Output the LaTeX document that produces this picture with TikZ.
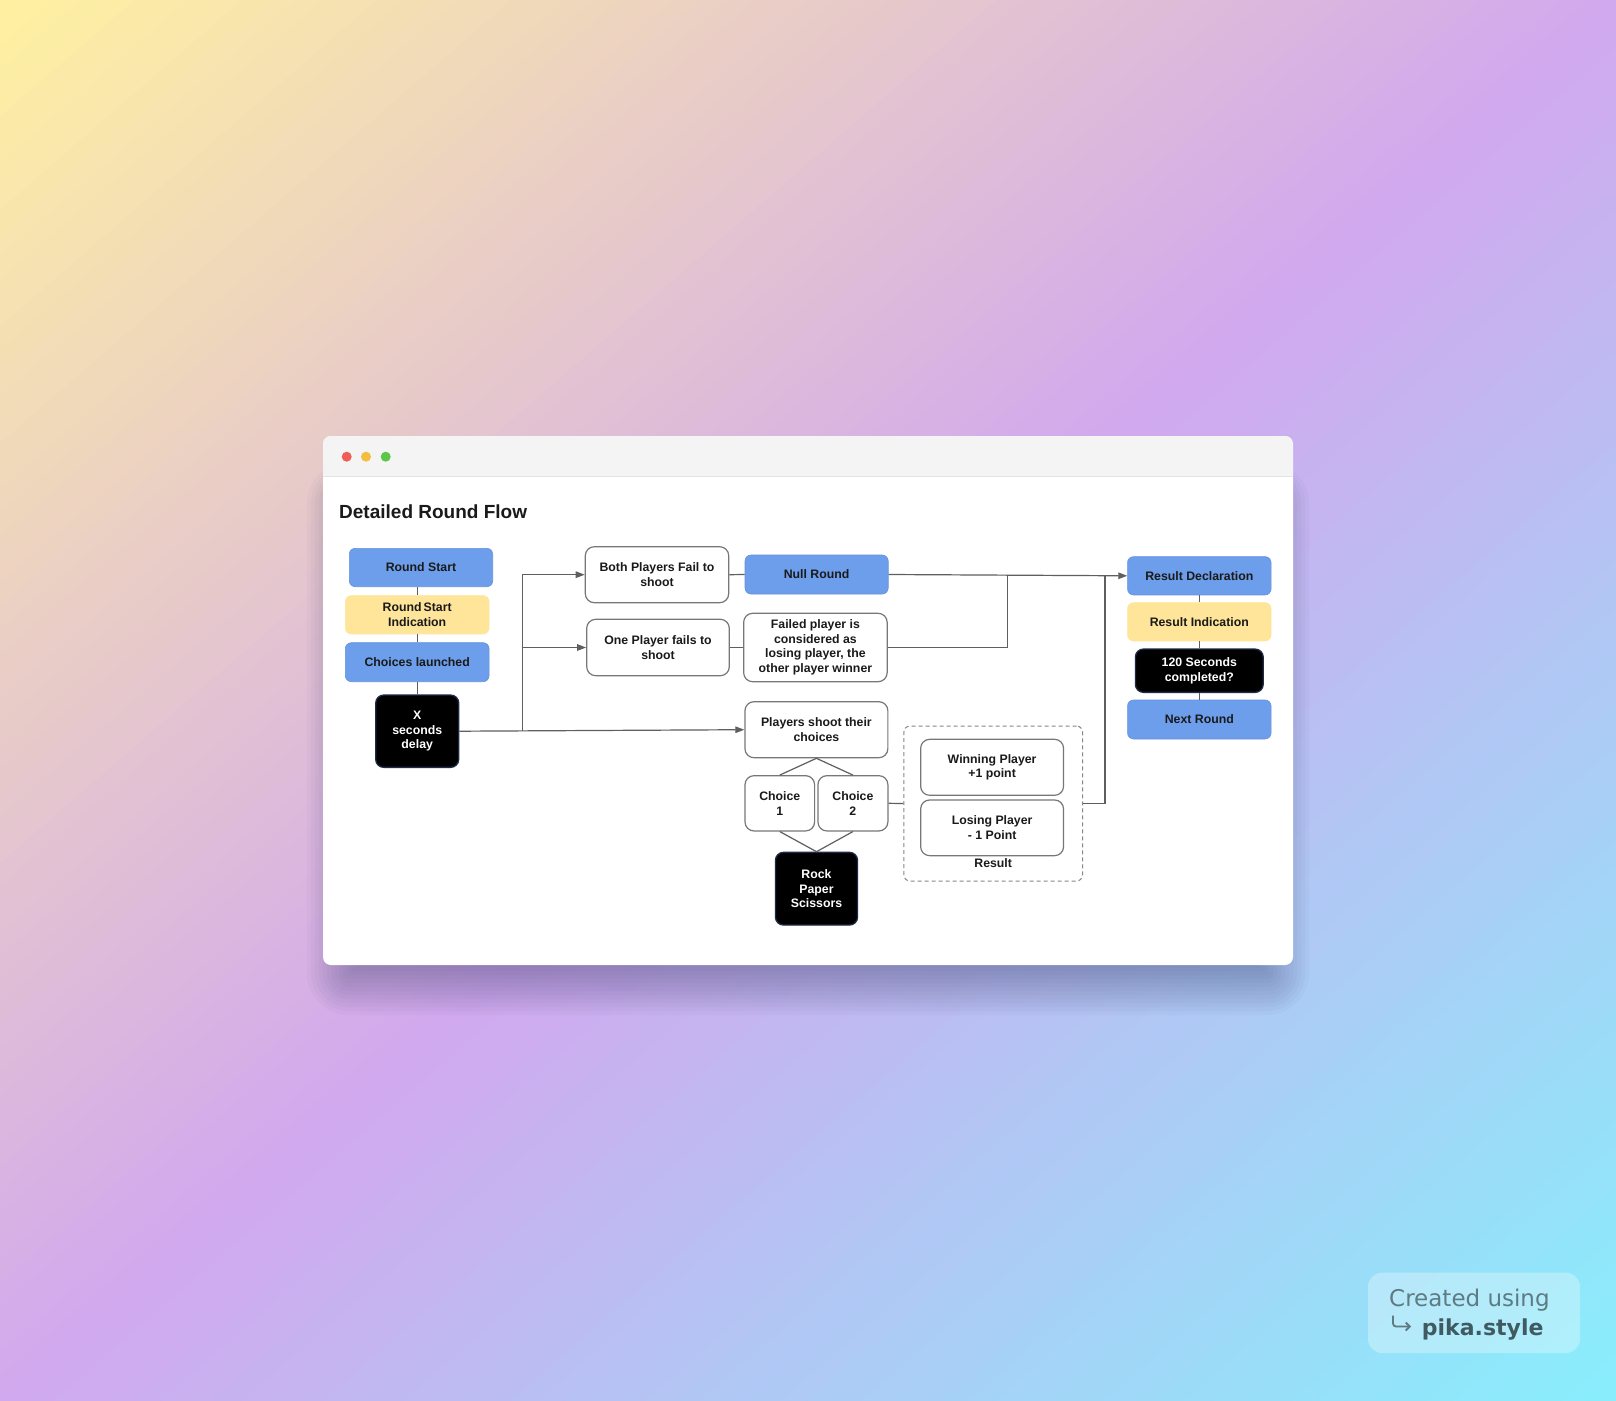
\documentclass[tikz,border=0pt]{standalone}
\usepackage{fontspec}
\setmainfont{Liberation Sans}
\newfontfamily\wmfont{DejaVu Sans}
\usetikzlibrary{arrows.meta,calc}
\definecolor{bgY}{HTML}{FFF1A0}
\definecolor{bgP}{HTML}{D2A8EE}
\definecolor{bgC}{HTML}{88EEFC}
\definecolor{blueF}{HTML}{6D9EEB}
\definecolor{yelF}{HTML}{FFE599}
\definecolor{lineC}{HTML}{5F5F5F}
\definecolor{txtC}{HTML}{1A1A1A}
\definecolor{barC}{HTML}{F4F4F4}
\definecolor{barLine}{HTML}{E4E4E4}
\definecolor{dotR}{HTML}{EE5E56}
\definecolor{dotY}{HTML}{F5BD3C}
\definecolor{dotG}{HTML}{5DC648}
\definecolor{wmA}{HTML}{5E7B82}
\definecolor{wmB}{HTML}{3F5B61}
\definecolor{blkB}{HTML}{1E2B48}
\definecolor{shadC}{HTML}{2A3560}
\newcommand{\boxfont}{\bfseries\fontsize{12.3}{14.5}\selectfont}
\tikzset{
  box/.style={rounded corners=6pt, inner sep=0pt, align=center, font=\boxfont, text=txtC},
  bluebox/.style={box, fill=blueF, draw=blueF!92!black, line width=0.6pt},
  yelbox/.style={box, fill=yelF, draw=yelF, line width=0.6pt},
  whitebox/.style={box, rounded corners=9pt, fill=white, draw=lineC!85, line width=1.2pt},
  blackbox/.style={box, rounded corners=8pt, fill=black, draw=blkB, line width=1.3pt, text=white},
  groupbox/.style={rounded corners=6pt, draw=lineC!75, line width=1pt, dash pattern=on 4pt off 3pt, inner sep=0pt},
  conn/.style={draw=lineC, line width=1.2pt},
  arr/.style={conn, -{Triangle[length=9pt,width=6.5pt]}},
}
\begin{document}
\begin{tikzpicture}[x=1pt,y=-1pt]
\useasboundingbox (0,0) rectangle (1616,1400);
% background: diagonal gradient in bands
\begin{scope}
\clip (0,0) rectangle (1616,1400);
\foreach \k in {0,...,119}{
  \pgfmathsetmacro{\sa}{\k/60}
  \pgfmathsetmacro{\sb}{(\k+1.4)/60}
  \pgfmathsetmacro{\sm}{(\k+0.5)/60}
  \ifdim \sm pt < 1pt
    \pgfmathsetmacro{\pc}{100*\sm}
    \colorlet{bandc}{bgP!\pc!bgY}
  \else
    \pgfmathsetmacro{\pc}{100*(\sm-1)}
    \colorlet{bandc}{bgC!\pc!bgP}
  \fi
  \fill[bandc] ({1616*(\sa+1)},-1400) -- ({1616*(\sb+1)},-1400) -- ({1616*(\sb-2)},2800) -- ({1616*(\sa-2)},2800) -- cycle;
}
\end{scope}
% window shadow (soft, offset downwards)
\foreach \i in {0,...,14}{
  \pgfmathsetmacro{\e}{-28+4*\i}
  \pgfmathsetmacro{\rr}{max(1,14+\e)}
  \fill[shadC, opacity=0.03, rounded corners=\rr pt] ({335-\e},{490-\e}) rectangle ({1281+\e},{987+\e});
}
% window
\fill[white, rounded corners=8pt] (323,436) rectangle (1293,965);
\begin{scope}
\clip[rounded corners=8pt] (323,436) rectangle (1293,965);
\fill[barC] (323,436) rectangle (1293,476.7);
\draw[barLine, line width=1pt] (323,476.7) -- (1293,476.7);
\end{scope}
\fill[dotR] (346.7,456.7) circle (5pt);
\fill[dotY] (366,456.7) circle (5pt);
\fill[dotG] (385.7,456.7) circle (5pt);
% title
\node[anchor=base west, inner sep=0pt, font=\bfseries\fontsize{19}{22}\selectfont, text=txtC] (title) at (339,518) {Detailed Round Flow};
% left column
\node[bluebox, minimum width=143.4pt, minimum height=38.4pt] (rs) at (421,567.5) {Round Start};
\node[yelbox, minimum width=143.7pt, minimum height=38.3pt] (rsi) at (417.2,614.8) {Round\,Start\\Indication};
\node[bluebox, minimum width=143.7pt, minimum height=39pt] (cl) at (417.2,662.2) {Choices launched};
\node[blackbox, minimum width=83pt, minimum height=72.3pt] (xd) at (417.2,731.2) {X\\seconds\\delay};
% middle
\node[whitebox, minimum width=143.4pt, minimum height=56pt] (both) at (657,574.7) {Both Players Fail to\\shoot};
\node[whitebox, minimum width=142.6pt, minimum height=56.4pt] (one) at (658,647.5) {One Player fails to\\shoot};
\node[bluebox, minimum width=143.2pt, minimum height=39pt] (null) at (816.6,574.5) {Null Round};
\node[whitebox, minimum width=143.5pt, minimum height=68.4pt] (failed) at (815.4,647.5) {Failed player is\\considered as\\losing player, the\\other player winner};
\node[whitebox, minimum width=142.9pt, minimum height=56pt] (shoot) at (816.4,729.7) {Players shoot their\\choices};
\node[whitebox, minimum width=69.6pt, minimum height=55.3pt] (c1) at (779.8,803.3) {Choice\\1};
\node[whitebox, minimum width=70pt, minimum height=55.3pt] (c2) at (852.9,803.3) {Choice\\2};
\node[blackbox, minimum width=82.1pt, minimum height=72.7pt] (rps) at (816.5,888.7) {Rock\\Paper\\Scissors};
% result group
\node[groupbox, minimum width=178.6pt, minimum height=155pt] (resbox) at (993.2,803.5) {};
\node[whitebox, minimum width=142.9pt, minimum height=56pt] (win) at (992.1,767.3) {Winning Player\\+1 point};
\node[whitebox, minimum width=142.9pt, minimum height=55.7pt] (lose) at (992.1,827.8) {Losing Player\\- 1 Point};
\node[inner sep=0pt, font=\boxfont, text=txtC] (reslbl) at (993.2,863) {Result};
% right column
\node[bluebox, minimum width=143.5pt, minimum height=38.3pt] (rd) at (1199.3,575.8) {Result Declaration};
\node[yelbox, minimum width=143.5pt, minimum height=38.3pt] (ri) at (1199.3,621.8) {Result Indication};
\node[blackbox, minimum width=127.8pt, minimum height=43.3pt] (sec) at (1199.3,670.7) {120 Seconds\\completed?};
\node[bluebox, minimum width=143.5pt, minimum height=39pt] (nr) at (1199.3,719.5) {Next Round};
% connectors
\draw[conn] (rsi.north) -- (rsi.north |- rs.south);
\draw[conn] (rsi.south) -- (cl.north);
\draw[conn] (cl.south) -- (xd.north);
\coordinate (j) at (522.3,731.2);
\draw[arr] (xd.east) -- (shoot.west);
\draw[arr] (j) |- (both.west);
\draw[arr] (j) |- (one.west);
\draw[conn] (both.east) -- (null.west);
\draw[conn] (one.east) -- (failed.west);
\draw[arr] (null.east) -- (rd.west);
\coordinate (k1) at (1007.5,575.2);
\draw[conn] (failed.east) -| (k1);
\coordinate (k2) at (1105,575.6);
\draw[conn] (resbox.east) -| (k2);
\draw[conn] (c2.east) -- (resbox.west);
\draw[conn] (c1.north) -- (shoot.south) -- (c2.north);
\draw[conn] (c1.south) -- (rps.north) -- (c2.south);
\draw[conn] (rd.south) -- (ri.north);
\draw[conn] (ri.south) -- (sec.north);
\draw[conn] (sec.south) -- (nr.north);
% watermark
\fill[white, fill opacity=0.3, rounded corners=14pt] (1368,1272.7) rectangle (1580,1353);
\node[anchor=base west, inner sep=0pt, font=\wmfont\fontsize{23}{26}\selectfont, text=wmA] (wm1) at (1389,1306) {Created using};
\draw[wmA, line width=1.8pt, rounded corners=3pt, -{Straight Barb[length=4pt,width=8pt]}] (1393,1315.5) -- (1393,1326.5) -- (1411,1326.5);
\node[anchor=base west, inner sep=0pt, font=\wmfont\bfseries\fontsize{22}{26}\selectfont, text=wmB] (wm2) at (1421.7,1335) {pika.style};
\end{tikzpicture}
\end{document}
